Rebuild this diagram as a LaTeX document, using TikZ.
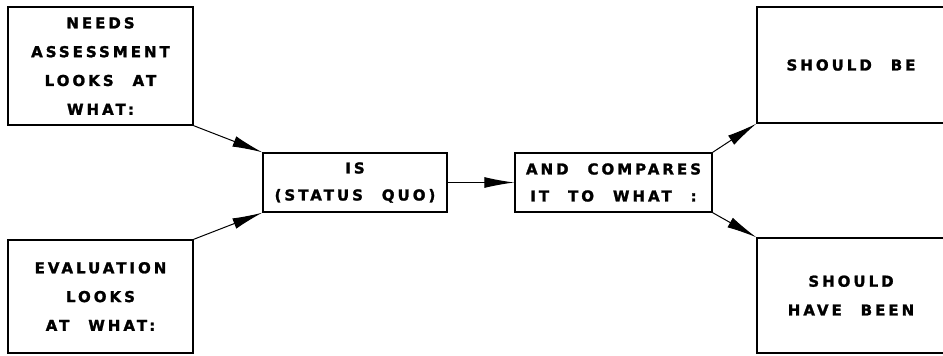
\documentclass[tikz,border=0pt]{standalone}
\usepackage{fontspec}
\setmainfont{DejaVu Sans}[LetterSpace=20,WordSpace=2.3,BoldFeatures={FakeBold=1.6}]
\usetikzlibrary{arrows.meta}
\begin{document}
\begin{tikzpicture}[x=1pt,y=-1pt,
  box/.style={draw,line width=1.4pt,rectangle,inner sep=0pt,align=center,
    font=\bfseries\fontsize{15}{28.8}\selectfont},
  conn/.style={line width=1pt,-{Latex[length=30pt,width=11pt]}}]
\useasboundingbox (0,0) rectangle (943,356);
\node[box,minimum width=185pt,minimum height=118pt] (needs) at (100.5,66) {NEEDS\\ASSESSMENT\\LOOKS AT\\WHAT:};
\node[box,minimum width=185pt,minimum height=113pt] (eval) at (100.5,296.5) {EVALUATION\\LOOKS\\AT WHAT:};
\node[box,minimum width=184pt,minimum height=59pt,font=\bfseries\fontsize{15}{27}\selectfont] (is) at (355,182.5) {IS\\(STATUS QUO)};
\node[box,minimum width=197pt,minimum height=59pt,font=\bfseries\fontsize{15}{27}\selectfont] (cmp) at (613.5,182.5) {AND COMPARES\\IT TO WHAT :};
\node[box,minimum width=188pt,minimum height=116pt] (sb) at (851,65) {SHOULD BE};
\node[box,minimum width=188pt,minimum height=115pt] (shb) at (851,295.5) {SHOULD\\HAVE BEEN};
\draw[conn] (needs.south east) -- (is.north west);
\draw[conn] (eval.north east) -- (is.south west);
\draw[conn] (is.east) -- (cmp.west);
\draw[conn] (cmp.north east) -- (sb.south west);
\draw[conn] (cmp.south east) -- (shb.north west);
\end{tikzpicture}
\end{document}
